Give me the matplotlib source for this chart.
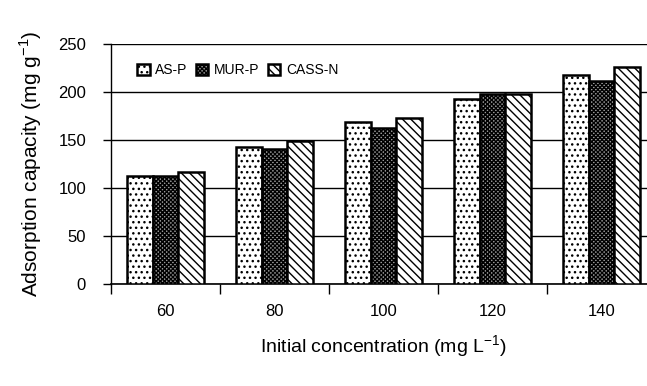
import numpy as np
import matplotlib.pyplot as plt

# -------------------------------------------------------
# Data
# -------------------------------------------------------
concentrations = ["60", "80", "100", "120", "140"]
as_p = [112, 142, 168, 192, 217]
mur_p = [112, 140, 162, 197, 211]
cass_n = [116, 148, 172, 197, 226]

series_names = ["AS-P", "MUR-P", "CASS-N"]

# ---- bar styles ----
hatches = ["...", "xxxxxxxx", "\\\\\\\\"]
faces = ["white", "#9a9a9a", "white"]

plt.rcParams["font.family"] = ["Liberation Sans", "DejaVu Sans"]
plt.rcParams["hatch.linewidth"] = 1.0

# -------------------------------------------------------
# Plot
# -------------------------------------------------------
fig = plt.figure(figsize=(6.47, 3.86), dpi=100)
ax = fig.add_axes([0.1716, 0.2655, 0.8423, 0.6218])

x = np.arange(len(concentrations))
w = 0.235
for i, (vals, name, h, fc) in enumerate(zip([as_p, mur_p, cass_n], series_names, hatches, faces)):
    ax.bar(x + (i - 1) * w, vals, width=w, color=fc, edgecolor="black",
           linewidth=1.8, hatch=h, label=name, zorder=3)

ax.set_xlim(-0.5, len(concentrations) - 0.5)
ax.set_ylim(0, 250)
ax.set_yticks(np.arange(0, 251, 50))
ax.yaxis.grid(True, color="black", linewidth=1.0, zorder=0)
ax.set_axisbelow(True)

# boundary ticks below the axis, labels at the group centres
ax.set_xticks(np.arange(-0.5, len(concentrations), 1.0))
ax.set_xticklabels([])
ax.set_xticks(x, minor=True)
ax.set_xticklabels(concentrations, minor=True, fontsize=12)
ax.tick_params(axis="x", which="major", direction="out", length=7, width=1)
ax.tick_params(axis="x", which="minor", length=0, pad=15)
ax.tick_params(axis="y", direction="out", length=6, width=1, pad=12, labelsize=12)

for side in ["top", "right"]:
    ax.spines[side].set_visible(False)
ax.spines["left"].set_linewidth(1.0)
ax.spines["bottom"].set_linewidth(1.2)

ax.set_xlabel("Initial concentration (mg L$^{\\mathregular{-1}}$)", fontsize=14, labelpad=10)
ax.set_ylabel("Adsorption capacity (mg g$^{\\mathregular{-1}}$)", fontsize=15, labelpad=10)

ax.legend(loc="upper left", ncol=3, frameon=False, fontsize=10,
          handlelength=0.9, handleheight=0.9, handletextpad=0.4,
          columnspacing=0.6, bbox_to_anchor=(0.025, 0.97))

fig.savefig("out.png", dpi=100)
